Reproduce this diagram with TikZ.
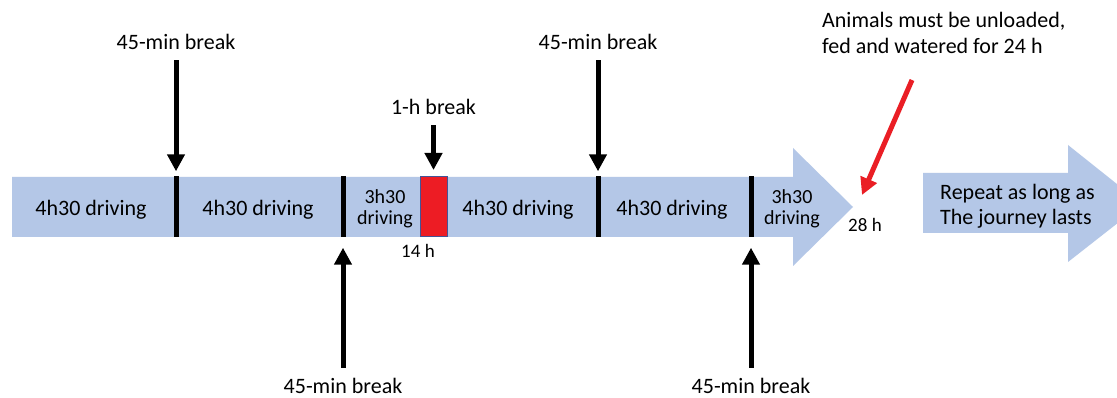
\documentclass[tikz,border=0pt]{standalone}
\usepackage{fontspec}
\setmainfont{Carlito}
\usetikzlibrary{arrows.meta}
\definecolor{barblue}{RGB}{180,199,231}
\definecolor{boxred}{RGB}{237,28,36}
\definecolor{edgeblue}{RGB}{68,84,150}
\definecolor{pointred}{RGB}{234,30,37}
\begin{document}
\begin{tikzpicture}[x=1pt,y=-1pt,
  lbl/.style={font=\fontsize{22}{25.5}\selectfont, inner sep=0pt, anchor=base},
  seg/.style={font=\fontsize{22}{25.5}\selectfont, inner sep=0pt, anchor=base},
  segsmall/.style={font=\fontsize{20}{21}\selectfont, inner sep=0pt, align=center},
  note/.style={font=\fontsize{22}{25.5}\selectfont, inner sep=0pt, align=left, anchor=west},
  hourlbl/.style={font=\fontsize{19}{22}\selectfont, inner sep=0pt, anchor=base},
  divider/.style={fill=black, inner sep=0pt, minimum width=5pt, minimum height=61pt},
  stopbox/.style={fill=boxred, draw=edgeblue, line width=1pt, inner sep=0pt, minimum width=27pt, minimum height=60pt},
  brk/.style={line width=5pt, -{Triangle[width=17pt,length=17pt]}},
  alert/.style={pointred, line width=5pt, -{Triangle[width=17pt,length=17pt]}},
  bar/.style={fill=barblue}]
\useasboundingbox (0,0) rectangle (1117,398);
\clip (0,0) rectangle (1117,398);
\fill[white] (0,0) rectangle (1117,398);
% main timeline arrow
\fill[bar] (12,177) -- (793,177) -- (793,148) -- (853,207) -- (793,266) -- (793,237) -- (12,237) -- cycle;
% repeat arrow
\fill[bar] (923,173) -- (1068,173) -- (1068,145) -- (1142,204) -- (1068,262) -- (1068,233) -- (923,233) -- cycle;
% dividers and stop
\node[divider] (d1) at (176,207) {};
\node[divider] (d2) at (343,207) {};
\node[divider] (d3) at (598,207) {};
\node[divider] (d4) at (751,207) {};
\node[stopbox] (stop) at (433.5,207) {};
% segment texts
\node[seg] (s1) at (91,216) {4h30 driving};
\node[seg] (s2) at (258,216) {4h30 driving};
\node[segsmall] (s3) at (385,209) {3h30\\driving};
\node[seg] (s4) at (518,216) {4h30 driving};
\node[seg] (s5) at (672,216) {4h30 driving};
\node[segsmall] (s6) at (792,209) {3h30\\driving};
\node[hourlbl] (h14) at (418,258) {14 h};
\node[hourlbl] (h28) at (865,232) {28 h};
% break labels
\node[lbl] (l1) at (176,50) {45-min break};
\node[lbl] (l3) at (598,50) {45-min break};
\node[lbl] (l2) at (343,393) {45-min break};
\node[lbl] (l4) at (751,393) {45-min break};
\node[lbl] (lh) at (433.5,115) {1-h break};
% break arrows
\draw[brk, shorten <=10pt, shorten >=5pt] (l1) -- (d1);
\draw[brk, shorten <=10pt, shorten >=5pt] (l3) -- (d3);
\draw[brk, shorten <=10pt, shorten >=10pt] (l2) -- (d2);
\draw[brk, shorten <=10pt, shorten >=10pt] (l4) -- (d4);
\draw[brk, shorten <=10pt, shorten >=6.5pt] (lh) -- (stop);
% notes
\node[note] (animals) at (822,33) {Animals must be unloaded,\\fed and watered for 24 h};
\node[note] (repeat) at (940,206) {Repeat as long as\\The journey lasts};
\coordinate (alertfrom) at (912,80);
\coordinate (alertto) at (862,195);
\draw[alert] (alertfrom) -- (alertto);
\end{tikzpicture}
\end{document}
